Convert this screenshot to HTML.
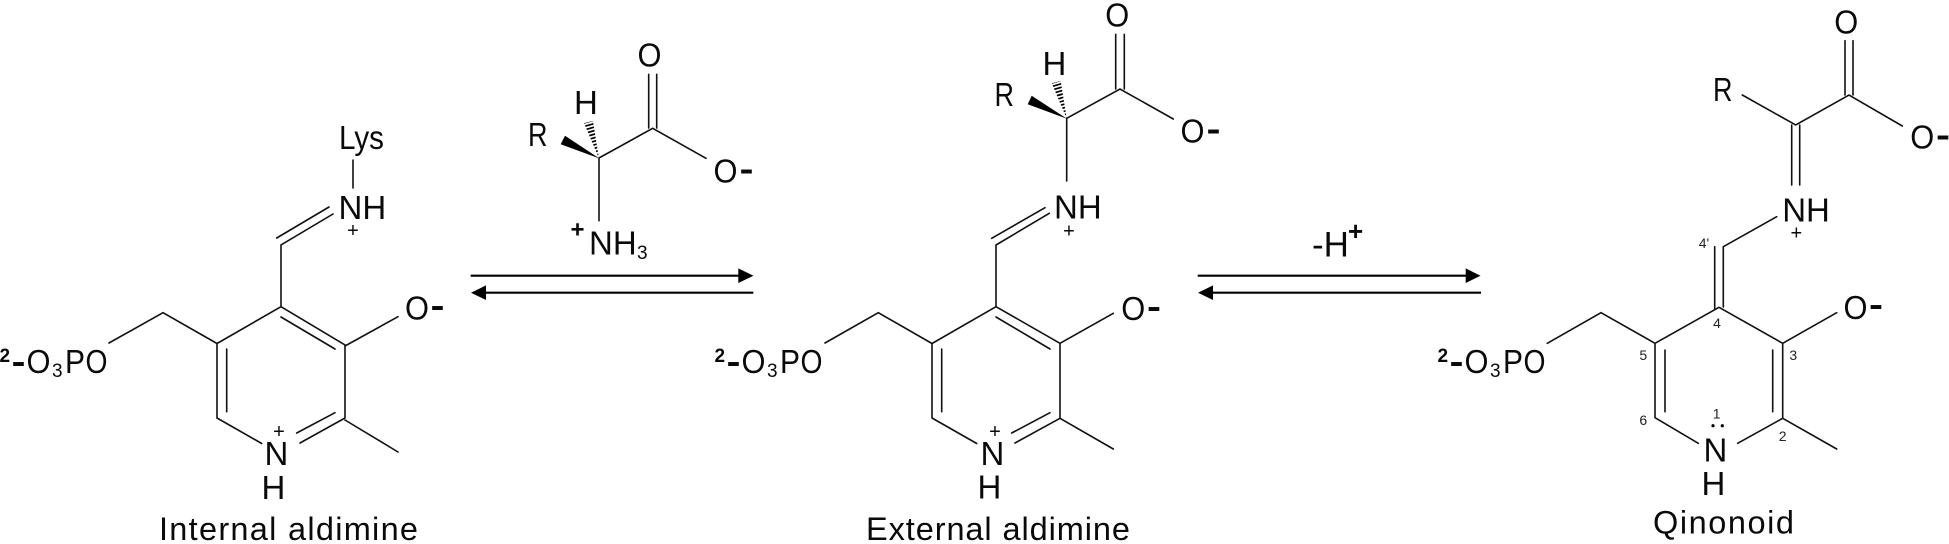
<!DOCTYPE html>
<html><head><meta charset="utf-8"><title>PLP aldimine mechanism</title>
<style>
html,body{margin:0;padding:0;background:#fff;width:1949px;height:544px;overflow:hidden}
svg{display:block}
text{font-family:"Liberation Sans",sans-serif;font-size:33px;fill:#0a0a0a}
.p{font-size:20px;text-anchor:middle}
.s{font-size:19px}
.n{font-size:14px;text-anchor:middle;fill:#222}
.m{font-weight:bold}
.t{font-size:32.5px}
.l{stroke:#111;stroke-width:1.6;fill:none;stroke-linecap:round}
.a{stroke:#000;stroke-width:2.2;fill:none}
</style></head><body>
<svg width="1949" height="544" viewBox="0 0 1949 544" xmlns="http://www.w3.org/2000/svg">
<defs>
<clipPath id="h1"><polygon points="599,158.5 584,123 593,121"/></clipPath>
<clipPath id="h2"><polygon points="1066.7,118.5 1051.7,83.3 1060.7,81"/></clipPath>
</defs>

<!-- Internal aldimine -->
<g>
<path class="l" d="M281,306.7L345,345V418L300,443M335,412.7L296.7,433M281,317L335,349M281,306.7L217,343.5V418L261.7,443.5M226.7,349V411.7M345,420L398,452M345,346L398,316.7M281,306.7V245L333,214M276.7,238L329,207M353,160V188M217,343.5L163,312.7L109,343"/>
<text x="339" y="149" textLength="45" lengthAdjust="spacingAndGlyphs">Lys</text>
<text x="338.5" y="219">NH</text>
<text class="p" x="353" y="237">+</text>
<text x="405" y="319.5" textLength="24" lengthAdjust="spacingAndGlyphs">O</text>
<text class="m" x="430.5" y="316.5" textLength="14" lengthAdjust="spacingAndGlyphs">-</text>
<text class="s" x="-0.5" y="362" font-weight="bold">2</text>
<text class="m" x="11.5" y="372.5" textLength="14" lengthAdjust="spacingAndGlyphs">-</text>
<text x="26.5" y="373" textLength="24" lengthAdjust="spacingAndGlyphs">O</text>
<text class="s" x="52" y="377">3</text>
<text x="65" y="373" textLength="20" lengthAdjust="spacingAndGlyphs">P</text>
<text x="85.5" y="373" textLength="22" lengthAdjust="spacingAndGlyphs">O</text>
<text x="264.5" y="465">N</text>
<text class="p" x="279" y="438">+</text>
<text x="261.5" y="499">H</text>
<text class="t" x="159" y="540" textLength="259" lengthAdjust="spacing">Internal aldimine</text>
</g>

<!-- Reactant amino acid -->
<g>
<path class="l" d="M599,158L652.7,128.3L706,158.3M648.7,128V74.3M656.7,128V74.3M599,158V220.7"/>
<polygon points="599.5,158.5 565,135.7 560.7,144.3" fill="#000"/>
<line x1="599" y1="158.5" x2="588.5" y2="122" stroke="#000" stroke-width="14" stroke-dasharray="1.7 1.7" clip-path="url(#h1)"/>
<text x="637.5" y="66.5" textLength="24" lengthAdjust="spacingAndGlyphs">O</text>
<text x="574" y="114">H</text>
<text x="528" y="146" textLength="19.5" lengthAdjust="spacingAndGlyphs">R</text>
<text x="713.5" y="182.3" textLength="24" lengthAdjust="spacingAndGlyphs">O</text>
<text class="m" x="739.5" y="179.8" textLength="14" lengthAdjust="spacingAndGlyphs">-</text>
<text x="570.5" y="237.5" style="font-size:24px" font-weight="bold">+</text>
<text x="589" y="254.3">NH</text>
<text class="s" x="637" y="259">3</text>
</g>

<!-- Arrows 1 -->
<g>
<path class="a" d="M470.7,275.7H740M753.3,292.7H484"/>
<polygon points="753.5,275.7 738.3,268.4 738.3,283" fill="#000"/>
<polygon points="471,292.7 486,285.4 486,300" fill="#000"/>
</g>

<!-- External aldimine -->
<g>
<path class="l" d="M996,306.7L1060,343.3V418.3L1015,443M1050,412.7L1011.7,433M996,317L1050,349M996,306.7L932,343.5V418L976.7,443.5M941.7,349V411.7M1060,418.3L1113.3,449M1060,343.3L1113.3,313.3M996,306.7V245L1049.3,213.3M991.7,238.3L1045,207.7M932,343.5L878.3,312.7L825,343"/>
<path class="l" d="M1066.7,118.3L1120,89L1173.3,119M1115.7,89V34.3M1124.3,89V34.3M1066.7,118.3V181"/>
<polygon points="1067,118.7 1031.7,95.7 1027.7,104.3" fill="#000"/>
<line x1="1066.7" y1="118.5" x2="1056.2" y2="82" stroke="#000" stroke-width="14" stroke-dasharray="1.7 1.7" clip-path="url(#h2)"/>
<text x="1105.2" y="26.7" textLength="24" lengthAdjust="spacingAndGlyphs">O</text>
<text x="1042.5" y="75">H</text>
<text x="994.5" y="106" textLength="19.5" lengthAdjust="spacingAndGlyphs">R</text>
<text x="1180.5" y="142.3" textLength="24" lengthAdjust="spacingAndGlyphs">O</text>
<text class="m" x="1206.5" y="139.8" textLength="14" lengthAdjust="spacingAndGlyphs">-</text>
<text x="1054" y="218.3">NH</text>
<text class="p" x="1069" y="237.5">+</text>
<text x="1121.2" y="320" textLength="24" lengthAdjust="spacingAndGlyphs">O</text>
<text class="m" x="1147" y="317.5" textLength="14" lengthAdjust="spacingAndGlyphs">-</text>
<text class="s" x="714.5" y="362" font-weight="bold">2</text>
<text class="m" x="726.5" y="372.5" textLength="14" lengthAdjust="spacingAndGlyphs">-</text>
<text x="741.5" y="373" textLength="24" lengthAdjust="spacingAndGlyphs">O</text>
<text class="s" x="767" y="377">3</text>
<text x="780" y="373" textLength="20" lengthAdjust="spacingAndGlyphs">P</text>
<text x="800.5" y="373" textLength="22" lengthAdjust="spacingAndGlyphs">O</text>
<text x="980.5" y="465">N</text>
<text class="p" x="995" y="438">+</text>
<text x="977.5" y="498.5">H</text>
<text class="t" x="866" y="540" textLength="264" lengthAdjust="spacing">External aldimine</text>
</g>

<!-- Arrows 2 -->
<g>
<path class="a" d="M1197.7,275.7H1467M1481,292.7H1211"/>
<polygon points="1480.5,275.7 1465.7,268.4 1465.7,283" fill="#000"/>
<polygon points="1198,292.7 1213,285.4 1213,300" fill="#000"/>
<text x="1312" y="256.7" style="font-size:35px">-H</text>
<text x="1348" y="240" style="font-size:26px" font-weight="bold">+</text>
</g>

<!-- Qinonoid -->
<g>
<path class="l" d="M1719,307.3L1782.7,343.3V418.3L1737.7,443.3M1772.7,350V411.7M1719,307.3L1655,343.3V417.7L1698.3,443.3M1665,350V411.7M1782.7,418.3L1836.7,449M1782.7,343.3L1836.7,312.7M1655,343.3L1601,312.7L1547.3,343.3M1714.7,309V246.7M1723.3,307V246.7L1776.7,216.7"/>
<path class="l" d="M1742.3,95L1795.7,125L1849,95L1902.3,126M1845,95V40.7M1853,95V40.7M1791.7,125V185M1799.7,125V185"/>
<text x="1834.2" y="33.3" textLength="24" lengthAdjust="spacingAndGlyphs">O</text>
<text x="1713" y="101" textLength="19.5" lengthAdjust="spacingAndGlyphs">R</text>
<text x="1910.2" y="148.3" textLength="24" lengthAdjust="spacingAndGlyphs">O</text>
<text class="m" x="1936" y="145.8" textLength="14" lengthAdjust="spacingAndGlyphs">-</text>
<text x="1782.2" y="221.7">NH</text>
<text class="p" x="1796.3" y="239.5">+</text>
<text x="1843.5" y="319" textLength="24" lengthAdjust="spacingAndGlyphs">O</text>
<text class="m" x="1869" y="315.5" textLength="14" lengthAdjust="spacingAndGlyphs">-</text>
<text class="s" x="1437.5" y="362" font-weight="bold">2</text>
<text class="m" x="1449.5" y="372.5" textLength="14" lengthAdjust="spacingAndGlyphs">-</text>
<text x="1464.5" y="373" textLength="24" lengthAdjust="spacingAndGlyphs">O</text>
<text class="s" x="1490" y="377">3</text>
<text x="1503" y="373" textLength="20" lengthAdjust="spacingAndGlyphs">P</text>
<text x="1523.5" y="373" textLength="22" lengthAdjust="spacingAndGlyphs">O</text>
<text x="1703.5" y="461.7">N</text>
<text x="1701.5" y="495">H</text>
<circle cx="1713" cy="425.7" r="1.6" fill="#000"/>
<circle cx="1722.3" cy="425.7" r="1.6" fill="#000"/>
<text class="n" x="1716.7" y="418.3">1</text>
<text class="n" x="1782.7" y="441">2</text>
<text class="n" x="1793.3" y="360">3</text>
<text class="n" x="1717" y="328">4</text>
<text class="n" x="1643.3" y="360">5</text>
<text class="n" x="1643.3" y="425">6</text>
<text class="n" x="1704" y="248">4'</text>
<text class="t" x="1653" y="533.3" textLength="141" lengthAdjust="spacing">Qinonoid</text>
</g>
</svg>
</body></html>
